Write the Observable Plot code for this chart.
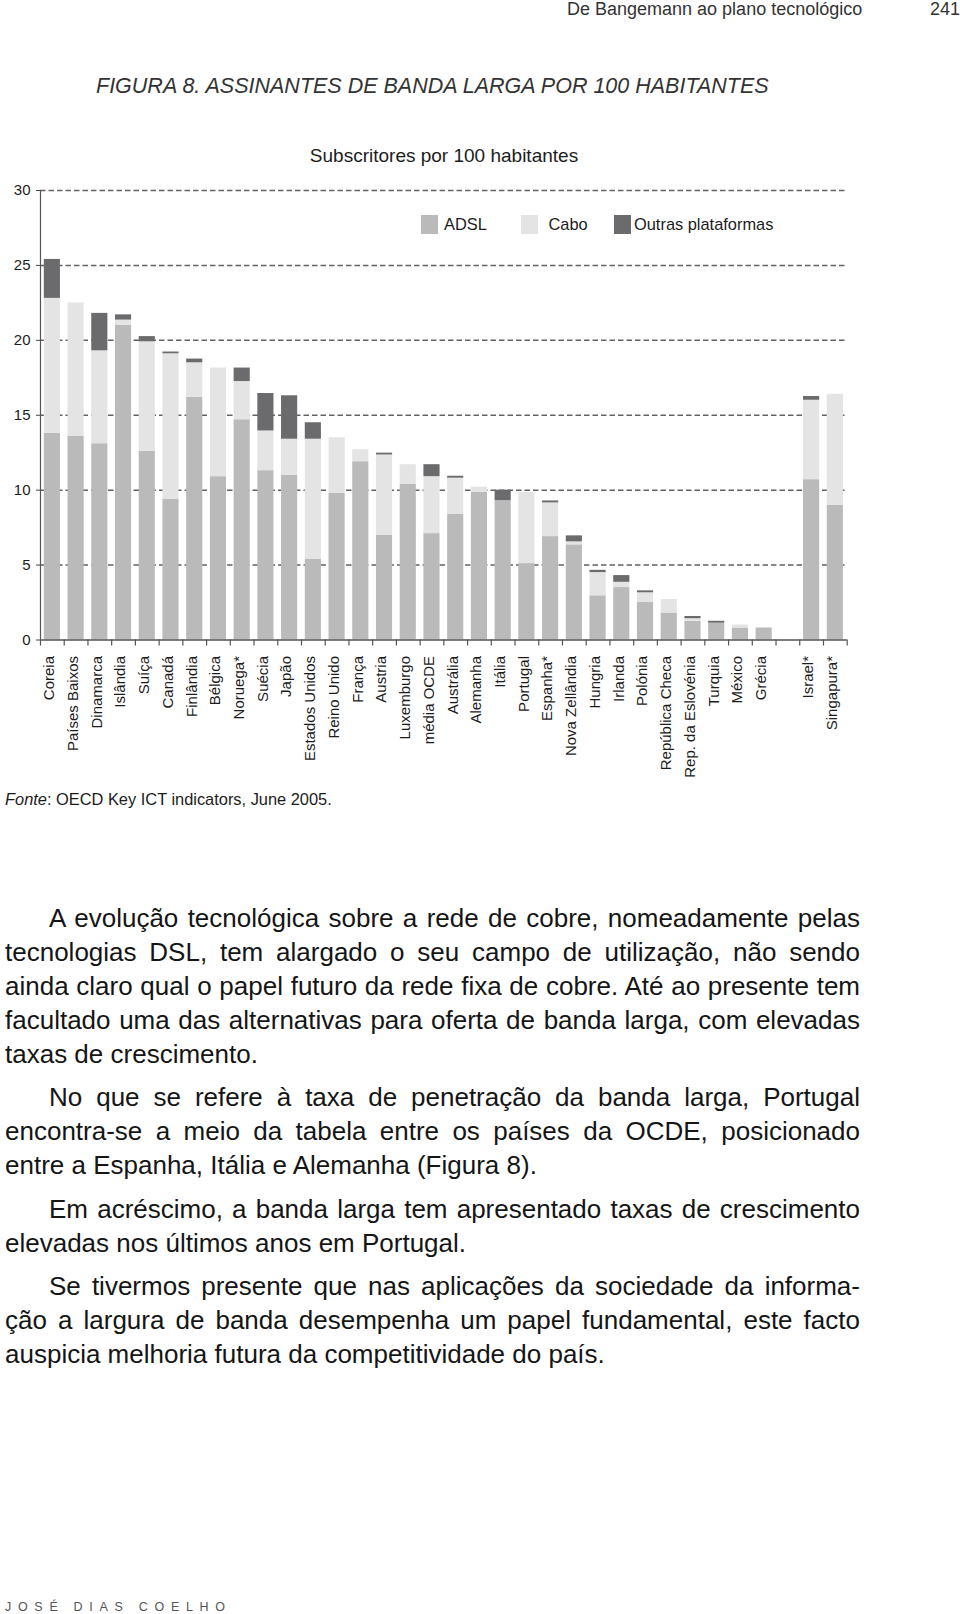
<!DOCTYPE html>
<html>
<head>
<meta charset="utf-8">
<script src="https://cdn.jsdelivr.net/npm/d3@7"></script>
<script src="https://cdn.jsdelivr.net/npm/@observablehq/plot@0.6"></script>
<style>
  html, body { margin: 0; padding: 0; }
  body { width: 960px; height: 1614px; position: relative; overflow: hidden; background: #fff;
         font-family: "Liberation Sans", Arial, Helvetica, sans-serif; color: #1c1c1c; }
  .abs { position: absolute; white-space: nowrap; }
  #chart { z-index: 1; }
  #legend { z-index: 2; left: 0; top: 215px; width: 960px; height: 19px; font-size: 16.4px; color: #1c1c1c; }
  #legend .item { position: absolute; top: 0; display: flex; align-items: center; height: 19px; }
  #legend .sw { width: 17px; height: 19px; }
  #body { left: 5px; top: 900.5px; width: 855px; font-size: 26px; line-height: 34px; color: #151515; }
  #body p { margin: 0 0 9.5px 0; }
  #body .ln { display: block; text-align: justify; text-align-last: justify; white-space: normal; }
  #body .ln.last { text-align-last: left; }
  #body .ln.ind { padding-left: 44px; }
</style>
</head>
<body>
<div class="abs" style="left:567px;top:0px;font-size:18px;line-height:18px;color:#333">De Bangemann ao plano tecnológico</div>
<div class="abs" style="right:0;top:0px;font-size:18px;line-height:18px;color:#333">241</div>
<div class="abs" style="left:96px;top:76px;font-size:21.5px;line-height:21.5px;font-style:italic;color:#333">FIGURA 8. ASSINANTES DE BANDA LARGA POR 100 HABITANTES</div>
<div class="abs" style="left:0;width:888px;text-align:center;top:146px;font-size:19px;line-height:19px;color:#1c1c1c">Subscritores por 100 habitantes</div>
<div id="chart" class="abs" style="left:0;top:140px"></div>
<div id="legend" class="abs"></div>
<div class="abs" style="left:5px;top:791px;font-size:16.4px;line-height:16.4px;color:#1c1c1c"><i>Fonte</i>: OECD Key ICT indicators, June 2005.</div>

<div id="body" class="abs">
  <p>
    <span class="ln ind">A evolução tecnológica sobre a rede de cobre, nomeadamente pelas</span>
    <span class="ln">tecnologias DSL, tem alargado o seu campo de utilização, não sendo</span>
    <span class="ln">ainda claro qual o papel futuro da rede fixa de cobre. Até ao presente tem</span>
    <span class="ln">facultado uma das alternativas para oferta de banda larga, com elevadas</span>
    <span class="ln last">taxas de crescimento.</span>
  </p>
  <p>
    <span class="ln ind">No que se refere à taxa de penetração da banda larga, Portugal</span>
    <span class="ln">encontra-se a meio da tabela entre os países da OCDE, posicionado</span>
    <span class="ln last">entre a Espanha, Itália e Alemanha (Figura 8).</span>
  </p>
  <p>
    <span class="ln ind">Em acréscimo, a banda larga tem apresentado taxas de crescimento</span>
    <span class="ln last">elevadas nos últimos anos em Portugal.</span>
  </p>
  <p>
    <span class="ln ind">Se tivermos presente que nas aplicações da sociedade da informa-</span>
    <span class="ln">ção a largura de banda desempenha um papel fundamental, este facto</span>
    <span class="ln last">auspicia melhoria futura da competitividade do país.</span>
  </p>
</div>

<div class="abs" style="left:5px;top:1600px;font-size:12.5px;line-height:14px;letter-spacing:6.7px;word-spacing:-1px;color:#555">JOSÉ DIAS COELHO</div>

<script>
// ---------- data ----------
const categories = [
  "Coreia", "Países Baixos", "Dinamarca", "Islândia", "Suíça", "Canadá", "Finlândia",
  "Bélgica", "Noruega*", "Suécia", "Japão", "Estados Unidos", "Reino Unido", "França",
  "Austria", "Luxemburgo", "média OCDE", "Austrália", "Alemanha", "Itália", "Portugal",
  "Espanha*", "Nova Zellândia", "Hungria", "Irlanda", "Polónia", "República Checa",
  "Rep. da Eslovénia", "Turquia", "México", "Grécia", "", "Israel*", "Singapura*"
];
const adsl = [
  13.8, 13.6, 13.1, 21.0, 12.6, 9.4, 16.2,
  10.9, 14.7, 11.3, 11.0, 5.4, 9.8, 11.9,
  7.0, 10.4, 7.1, 8.4, 9.85, 9.3, 5.1,
  6.9, 6.35, 2.95, 3.5, 2.5, 1.8,
  1.25, 1.12, 0.8, 0.8, 0, 10.7, 9.0
];
const cabo = [
  9.0, 8.9, 6.2, 0.35, 7.3, 9.7, 2.3,
  7.25, 2.55, 2.65, 2.4, 8.0, 3.7, 0.8,
  5.35, 1.3, 3.8, 2.4, 0.35, 0, 4.75,
  2.25, 0.2, 1.55, 0.35, 0.65, 0.9,
  0.17, 0, 0.2, 0, 0, 5.3, 7.4
];
const outras = [
  2.6, 0, 2.5, 0.35, 0.35, 0.12, 0.25,
  0, 0.9, 2.5, 2.9, 1.1, 0, 0,
  0.12, 0, 0.8, 0.13, 0, 0.7, 0,
  0.13, 0.4, 0.15, 0.45, 0.13, 0,
  0.15, 0.13, 0, 0, 0, 0.25, 0
];
const seriesNames = ["ADSL", "Cabo", "Outras plataformas"];
const seriesColors = ["#bababa", "#e4e4e4", "#6b6b6e"];
const yTicks = [0, 5, 10, 15, 20, 25, 30];

// legend layout (pixels, not data)
const legendLeft = [421, 521, 614];
const legendGap = [6, 10.5, 3];

// ---------- table ----------
const seriesValues = [adsl, cabo, outras];
const table = categories.flatMap((c, i) =>
  seriesValues.map((arr, k) => ({country: c, type: seriesNames[k], value: arr[i]}))
).filter(d => d.value > 0);

// ---------- layout ----------
const W = 960, H = 640, mL = 40, mR = 113.3, mT = 50, mB = 140.5;
const n = categories.length;
const step = (W - mL - mR) / n;

const chart = Plot.plot({
  width: W, height: H,
  marginTop: mT, marginBottom: mB, marginLeft: mL, marginRight: mR,
  style: {fontFamily: '"Liberation Sans", Arial, sans-serif', fontSize: "15px", color: "#333", background: "transparent"},
  x: {type: "band", domain: categories, paddingInner: 0.32, paddingOuter: 0.16, round: false, axis: null},
  y: {domain: [0, 30], axis: null},
  color: {domain: seriesNames, range: seriesColors},
  marks: [
    Plot.ruleY(yTicks.filter(t => t > 0), {stroke: "#626262", strokeWidth: 1.5, strokeDasharray: "5.5,3"}),
    Plot.barY(table, {x: "country", y: "value", fill: "type"}),
    Plot.axisY({ticks: yTicks, tickSize: 4, tickPadding: 6, fontSize: 15, label: null, stroke: "#444", fill: "#1c1c1c"}),
    Plot.ruleY([0], {stroke: "#555", strokeWidth: 1.3}),
    Plot.ruleX([categories[0]], {x: d => d, y1: 0, y2: 30, dx: -step / 2, stroke: "#555", strokeWidth: 1.2}),
    Plot.ruleX(categories, {x: d => d, y1: 0, y2: 0, insetBottom: -6, dx: -step / 2, stroke: "#555", strokeWidth: 1.2}),
    Plot.ruleX([categories[n - 1]], {x: d => d, y1: 0, y2: 0, insetBottom: -6, dx: step / 2, stroke: "#555", strokeWidth: 1.2}),
    Plot.text(categories, {x: d => d, y: 0, text: d => d, rotate: -90, textAnchor: "end", lineAnchor: "middle",
      dy: 16, dx: -3, fontSize: 15, fill: "#1c1c1c"})
  ]
});
document.getElementById("chart").appendChild(chart);

// ---------- legend ----------
const legend = document.getElementById("legend");
seriesNames.forEach((name, k) => {
  const item = document.createElement("div");
  item.className = "item";
  item.style.left = legendLeft[k] + "px";
  const sw = document.createElement("div");
  sw.className = "sw";
  sw.style.background = seriesColors[k];
  sw.style.marginRight = legendGap[k] + "px";
  const t = document.createElement("span");
  t.textContent = name;
  item.appendChild(sw);
  item.appendChild(t);
  legend.appendChild(item);
});
</script>
</body>
</html>
